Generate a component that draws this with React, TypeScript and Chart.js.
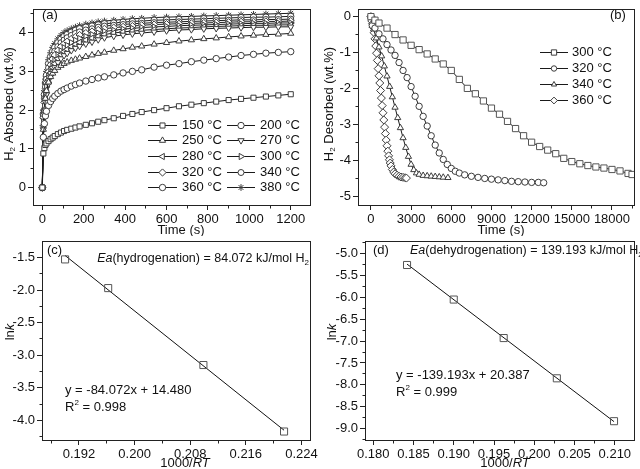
import React, { useEffect, useRef } from 'react';
import { Chart, registerables } from 'chart.js';
Chart.register(...registerables);

const FONT = "'Liberation Sans', Arial, Helvetica, sans-serif";

// ---------- Panel (a): H2 absorbed vs time ----------
const absTime = [0, 5, 10, 15, 20, 30, 40, 50, 60, 75, 90, 105, 120, 140, 160, 180, 210, 240, 270, 300, 345, 390, 435, 480, 540, 600, 660, 720, 780, 840, 900, 960, 1020, 1080, 1140, 1200];
const abs150 = [0, 0.88, 1.02, 1.1, 1.14, 1.2, 1.25, 1.29, 1.33, 1.38, 1.42, 1.46, 1.49, 1.52, 1.55, 1.58, 1.62, 1.66, 1.7, 1.74, 1.79, 1.85, 1.9, 1.95, 2.0, 2.05, 2.1, 2.14, 2.18, 2.22, 2.26, 2.29, 2.32, 2.35, 2.38, 2.41];
const abs200 = [0, 1.3, 1.65, 1.85, 1.97, 2.12, 2.22, 2.3, 2.36, 2.43, 2.49, 2.53, 2.57, 2.62, 2.66, 2.7, 2.75, 2.79, 2.83, 2.86, 2.91, 2.96, 3.0, 3.04, 3.11, 3.16, 3.2, 3.25, 3.29, 3.33, 3.37, 3.41, 3.44, 3.47, 3.49, 3.51];
const abs250 = [0, 1.5, 2.0, 2.3, 2.5, 2.72, 2.86, 2.95, 3.02, 3.1, 3.15, 3.2, 3.24, 3.28, 3.31, 3.34, 3.38, 3.42, 3.46, 3.49, 3.54, 3.58, 3.62, 3.65, 3.7, 3.74, 3.78, 3.81, 3.84, 3.86, 3.89, 3.91, 3.93, 3.95, 3.96, 3.98];
const abs270 = [0, 1.5, 1.9, 2.2, 2.4, 2.68, 2.86, 3.0, 3.1, 3.23, 3.33, 3.41, 3.47, 3.54, 3.6, 3.65, 3.71, 3.76, 3.82, 3.87, 3.91, 3.94, 3.97, 3.99, 4.02, 4.05, 4.07, 4.08, 4.1, 4.11, 4.12, 4.13, 4.14, 4.14, 4.15, 4.15];
const abs280 = [0, 1.6, 2.0, 2.3, 2.5, 2.78, 2.96, 3.1, 3.2, 3.33, 3.43, 3.51, 3.57, 3.64, 3.7, 3.75, 3.81, 3.86, 3.91, 3.95, 3.99, 4.02, 4.04, 4.06, 4.08, 4.1, 4.12, 4.13, 4.15, 4.16, 4.17, 4.18, 4.19, 4.19, 4.2, 4.2];
const abs300 = [0, 1.7, 2.1, 2.4, 2.6, 2.88, 3.06, 3.2, 3.3, 3.43, 3.53, 3.61, 3.67, 3.74, 3.8, 3.85, 3.9, 3.95, 3.99, 4.03, 4.06, 4.09, 4.11, 4.13, 4.15, 4.16, 4.18, 4.19, 4.2, 4.21, 4.22, 4.23, 4.24, 4.24, 4.25, 4.25];
const abs320 = [0, 1.8, 2.2, 2.5, 2.7, 2.99, 3.17, 3.32, 3.42, 3.54, 3.64, 3.71, 3.77, 3.84, 3.89, 3.94, 3.99, 4.03, 4.07, 4.1, 4.13, 4.15, 4.17, 4.19, 4.21, 4.22, 4.23, 4.24, 4.25, 4.26, 4.27, 4.28, 4.28, 4.29, 4.29, 4.3];
const abs340 = [0, 1.85, 2.3, 2.6, 2.8, 3.09, 3.28, 3.42, 3.52, 3.64, 3.74, 3.81, 3.87, 3.93, 3.98, 4.02, 4.07, 4.1, 4.14, 4.17, 4.19, 4.21, 4.23, 4.24, 4.26, 4.27, 4.28, 4.29, 4.3, 4.31, 4.32, 4.33, 4.33, 4.34, 4.34, 4.35];
const abs360 = [0, 1.9, 2.4, 2.7, 2.9, 3.2, 3.38, 3.52, 3.62, 3.74, 3.83, 3.9, 3.95, 4.01, 4.06, 4.1, 4.14, 4.17, 4.2, 4.23, 4.25, 4.27, 4.29, 4.3, 4.32, 4.33, 4.34, 4.35, 4.36, 4.37, 4.38, 4.39, 4.4, 4.4, 4.41, 4.42];
const abs380 = [0, 2.0, 2.5, 2.8, 3.0, 3.3, 3.48, 3.62, 3.72, 3.84, 3.93, 4.0, 4.05, 4.1, 4.14, 4.18, 4.22, 4.25, 4.28, 4.3, 4.32, 4.34, 4.36, 4.37, 4.39, 4.4, 4.41, 4.42, 4.43, 4.44, 4.45, 4.46, 4.47, 4.48, 4.49, 4.5];
const absSeries = [abs150, abs200, abs250, abs270, abs280, abs300, abs320, abs340, abs360, abs380];
const absLabels = ['150 °C', '200 °C', '250 °C', '270 °C', '280 °C', '300 °C', '320 °C', '340 °C', '360 °C', '380 °C'];
const absXTicks = [0, 200, 400, 600, 800, 1000, 1200];
const absYTicks = [0, 1, 2, 3, 4];

// ---------- Panel (b): H2 desorbed vs time ----------
const des300Time = [0, 300, 600, 1200, 1800, 2400, 3000, 3600, 4200, 4800, 5400, 6000, 6600, 7200, 7800, 8400, 9000, 9600, 10200, 10800, 11400, 12000, 12600, 13200, 13800, 14400, 15000, 15600, 16200, 16800, 17400, 18000, 18600, 19200, 19500];
const des300 = [0, -0.1, -0.18, -0.32, -0.5, -0.65, -0.8, -0.92, -1.04, -1.18, -1.32, -1.5, -1.75, -2.0, -2.15, -2.35, -2.55, -2.72, -2.92, -3.12, -3.32, -3.5, -3.62, -3.72, -3.82, -3.95, -4.04, -4.1, -4.15, -4.19, -4.22, -4.26, -4.3, -4.37, -4.4];
const des320Time = [0, 100, 300, 600, 900, 1200, 1500, 1800, 2100, 2400, 2700, 3000, 3300, 3600, 3900, 4200, 4500, 4800, 5100, 5400, 5700, 6000, 6300, 6600, 7000, 7500, 8000, 8500, 9000, 9500, 10000, 10500, 11000, 11500, 12000, 12500, 12900];
const des320 = [0, -0.25, -0.32, -0.48, -0.62, -0.78, -0.93, -1.08, -1.28, -1.5, -1.7, -1.95, -2.22, -2.5, -2.78, -3.05, -3.32, -3.58, -3.8, -3.98, -4.12, -4.23, -4.31, -4.36, -4.41, -4.45, -4.48, -4.51, -4.53, -4.55, -4.57, -4.59, -4.6, -4.61, -4.62, -4.62, -4.63];
const des340Time = [0, 100, 200, 400, 600, 800, 1000, 1200, 1400, 1600, 1800, 2000, 2200, 2400, 2600, 2800, 3000, 3200, 3400, 3600, 3900, 4200, 4500, 4800, 5100, 5400, 5750];
const des340 = [0, -0.25, -0.35, -0.6, -0.85, -1.1, -1.38, -1.66, -1.95, -2.24, -2.53, -2.82, -3.1, -3.38, -3.65, -3.9, -4.12, -4.27, -4.36, -4.4, -4.43, -4.44, -4.45, -4.46, -4.47, -4.48, -4.49];
const des360Time = [0, 60, 120, 180, 240, 300, 360, 420, 480, 540, 600, 660, 720, 780, 840, 900, 960, 1020, 1080, 1140, 1200, 1260, 1320, 1380, 1440, 1500, 1600, 1700, 1800, 1950, 2100, 2250, 2400, 2550, 2650];
const des360 = [0, -0.12, -0.2, -0.3, -0.45, -0.62, -0.82, -1.02, -1.22, -1.45, -1.65, -1.85, -2.06, -2.27, -2.48, -2.68, -2.88, -3.08, -3.26, -3.44, -3.6, -3.75, -3.88, -3.99, -4.08, -4.16, -4.26, -4.33, -4.38, -4.42, -4.45, -4.47, -4.48, -4.49, -4.5];
const desLabels = ['300 °C', '320 °C', '340 °C', '360 °C'];
const desXTicks = [0, 3000, 6000, 9000, 12000, 15000, 18000];
const desYTicks = [0, -1, -2, -3, -4, -5];

// ---------- Panel (c): hydrogenation Arrhenius ----------
const hydX = [0.19, 0.1962, 0.2099, 0.2215];
const hydLnk = [-1.53, -1.97, -3.15, -4.17];
const hydFitX = [0.19, 0.2215];
const hydFitY = [-1.47, -4.15];
const hydXTicks = [0.192, 0.2, 0.208, 0.216, 0.224];
const hydYTicks = [-1.5, -2.0, -2.5, -3.0, -3.5, -4.0];

// ---------- Panel (d): dehydrogenation Arrhenius ----------
const dehX = [0.1842, 0.19, 0.1962, 0.2028, 0.2099];
const dehLnk = [-5.26, -6.05, -6.93, -7.85, -8.83];
const dehFitX = [0.1842, 0.2099];
const dehFitY = [-5.24, -8.84];
const dehXTicks = [0.18, 0.185, 0.19, 0.195, 0.2, 0.205, 0.21];
const dehYTicks = [-5.0, -5.5, -6.0, -6.5, -7.0, -7.5, -8.0, -8.5, -9.0];

// ---------- drawing helpers ----------
const INK = '#111';
const MARK = '#3c3c3c';
const TICK_SIZE = 13;
const TEXT_SIZE = 13;

function drawRich(ctx: any, segs: any[], x: number, y: number, size: number, align: string, rot: number) {
  ctx.save();
  ctx.translate(x, y);
  if (rot) ctx.rotate(rot);
  const fontFor = (s: any) => `${s.it ? 'italic ' : ''}${s.sub || s.sup ? Math.round(size * 0.62) : size}px ${FONT}`;
  let total = 0;
  const widths = segs.map((s) => {
    ctx.font = fontFor(s);
    const w = ctx.measureText(s.t).width;
    total += w;
    return w;
  });
  let cx = align === 'center' ? -total / 2 : align === 'right' ? -total : 0;
  ctx.textBaseline = 'middle';
  ctx.textAlign = 'left';
  ctx.fillStyle = INK;
  segs.forEach((s, i) => {
    ctx.font = fontFor(s);
    const dy = s.sub ? size * 0.32 : s.sup ? -size * 0.36 : 0;
    ctx.fillText(s.t, cx, dy);
    cx += widths[i];
  });
  ctx.restore();
}

function drawMarker(ctx: any, style: string, x: number, y: number, r: number, rotDeg: number) {
  const rad = ((rotDeg || 0) * Math.PI) / 180;
  ctx.beginPath();
  if (style === 'circle') {
    ctx.arc(x, y, r, 0, Math.PI * 2);
  } else if (style === 'rect') {
    const s = r * Math.SQRT1_2;
    ctx.rect(x - s, y - s, 2 * s, 2 * s);
  } else if (style === 'rectRot') {
    ctx.moveTo(x, y - r);
    ctx.lineTo(x + r, y);
    ctx.lineTo(x, y + r);
    ctx.lineTo(x - r, y);
    ctx.closePath();
  } else if (style === 'triangle') {
    for (let k = 0; k < 3; k++) {
      const a = rad + (k * 2 * Math.PI) / 3;
      const px = x + Math.sin(a) * r;
      const py = y - Math.cos(a) * r;
      if (k === 0) ctx.moveTo(px, py);
      else ctx.lineTo(px, py);
    }
    ctx.closePath();
  } else if (style === 'star') {
    for (let k = 0; k < 4; k++) {
      const a = (k * Math.PI) / 4;
      ctx.moveTo(x - Math.sin(a) * r, y + Math.cos(a) * r);
      ctx.lineTo(x + Math.sin(a) * r, y - Math.cos(a) * r);
    }
    ctx.stroke();
    return;
  }
  ctx.fill();
  ctx.stroke();
}

const al = (p: number) => Math.round(p - 0.5) + 0.5;

function makeDecor(cfg: any) {
  return {
    id: 'decor',
    afterDraw(chart: any) {
      const { ctx, chartArea: ca, scales } = chart;
      ctx.save();
      ctx.strokeStyle = '#222';
      ctx.lineWidth = 1;
      const L = al(ca.left), T = al(ca.top), R = al(ca.right), B = al(ca.bottom);
      ctx.strokeRect(L, T, R - L, B - T);
      // minor ticks
      const xs = scales.x, ys = scales.y;
      ctx.beginPath();
      for (let k = Math.ceil(xs.min / cfg.minorX - 1e-9); k <= Math.floor(xs.max / cfg.minorX + 1e-9); k++) {
        const px = al(xs.getPixelForValue(k * cfg.minorX));
        ctx.moveTo(px, B);
        ctx.lineTo(px, B + 3);
      }
      for (let k = Math.ceil(ys.min / cfg.minorY - 1e-9); k <= Math.floor(ys.max / cfg.minorY + 1e-9); k++) {
        const py = al(ys.getPixelForValue(k * cfg.minorY));
        ctx.moveTo(L - 3, py);
        ctx.lineTo(L, py);
      }
      ctx.stroke();
      // legend
      (cfg.legend || []).forEach((e: any) => {
        ctx.strokeStyle = '#1a1a1a';
        ctx.lineWidth = 1;
        ctx.beginPath();
        ctx.moveTo(e.x1, e.y + 0.5);
        ctx.lineTo(e.x2, e.y + 0.5);
        ctx.stroke();
        ctx.fillStyle = '#fff';
        ctx.strokeStyle = MARK;
        drawMarker(ctx, e.style, (e.x1 + e.x2) / 2, e.y + 0.5, e.r, e.rot);
        drawRich(ctx, [{ t: e.label }], e.tx, e.y, TEXT_SIZE, 'left', 0);
      });
      // texts
      (cfg.texts || []).forEach((t: any) => drawRich(ctx, t.segs, t.x, t.y, t.size || 12.5, t.align || 'left', t.rot || 0));
      ctx.restore();
    },
  };
}

function axis(min: number, max: number, tickVals: number[], fmt: (v: number) => string, size: number, isX: boolean) {
  return {
    type: 'linear',
    min,
    max,
    afterBuildTicks: (s: any) => {
      s.ticks = tickVals.map((v) => ({ value: v }));
    },
    afterFit: (s: any) => {
      if (isX) s.height = size;
      else s.width = size;
    },
    grid: { display: true, drawOnChartArea: false, drawTicks: true, tickLength: 5, color: '#222', lineWidth: 1 },
    border: { display: false },
    ticks: { callback: (v: any) => fmt(Number(v)), font: { family: FONT, size: TICK_SIZE }, color: INK, padding: 2, autoSkip: false, maxRotation: 0 },
    title: { display: false },
  };
}

const baseOptions = (pad: any, scales: any) => ({
  animation: false,
  responsive: false,
  events: [],
  layout: { padding: pad },
  plugins: { legend: { display: false }, tooltip: { enabled: false } },
  scales,
});

const pts = (xs: number[], ys: number[]) => xs.map((x, i) => ({ x, y: ys[i] }));

// ---------- chart configs ----------
const absStyle = ['rect', 'circle', 'triangle', 'triangle', 'triangle', 'triangle', 'rectRot', 'circle', 'circle', 'star'];
const absRot = [0, 0, 0, 180, 270, 90, 0, 0, 0, 0];
const absRad = [3.6, 3.2, 3.6, 3.6, 3.6, 3.6, 3.6, 3.0, 3.2, 3.4];

function configA() {
  const datasets = absSeries.map((ys, i) => ({
    data: pts(absTime, ys),
    borderColor: '#1a1a1a',
    borderWidth: 1,
    tension: 0,
    pointStyle: absStyle[i],
    pointRotation: absRot[i],
    pointRadius: absRad[i],
    pointBackgroundColor: '#fff',
    pointBorderColor: MARK,
    pointBorderWidth: 1,
  }));
  const rows = [125, 140, 156, 172, 187];
  const legend = absLabels.map((lab, i) => {
    const col = i % 2;
    const row = Math.floor(i / 2);
    return {
      label: lab,
      style: absStyle[i],
      rot: absRot[i],
      r: absRad[i],
      x1: col ? 227 : 148,
      x2: col ? 255 : 177,
      tx: col ? 260 : 182,
      y: rows[row],
    };
  });
  const texts = [
    { segs: [{ t: '(a)' }], x: 42, y: 15, size: 13 },
    { segs: [{ t: 'H' }, { t: '2', sub: true }, { t: ' Absorbed (wt.%)' }], x: 9, y: 104, align: 'center', rot: -Math.PI / 2, size: 13 },
    { segs: [{ t: 'Time (s)' }], x: 181, y: 230, align: 'center', size: 13 },
  ];
  return {
    type: 'line',
    data: { datasets },
    options: baseOptions({ top: 3, right: 10, left: 0, bottom: 0 }, {
      x: axis(-45, 1293, absXTicks, (v) => String(v), 31, true),
      y: axis(-0.45, 4.59, absYTicks, (v) => String(v), 33, false),
    }),
    plugins: [makeDecor({ minorX: 100, minorY: 0.5, legend, texts })],
  };
}

const desStyle = ['rect', 'circle', 'triangle', 'rectRot'];
const desRad = [4.4, 3.2, 3.6, 4];

function configB() {
  const series = [pts(des300Time, des300), pts(des320Time, des320), pts(des340Time, des340), pts(des360Time, des360)];
  const datasets = series.map((d, i) => ({
    data: d,
    borderColor: '#1a1a1a',
    borderWidth: 1,
    tension: 0,
    pointStyle: desStyle[i],
    pointRadius: desRad[i],
    pointBackgroundColor: '#fff',
    pointBorderColor: i === 0 ? '#555' : MARK,
    pointBorderWidth: 1,
  }));
  const rows = [52, 68, 84, 100];
  const legend = desLabels.map((lab, i) => ({ label: lab, style: desStyle[i], rot: 0, r: desRad[i] * 0.85, x1: 220, x2: 248, tx: 252, y: rows[i] }));
  const texts = [
    { segs: [{ t: '(b)' }], x: 290, y: 15, size: 13 },
    { segs: [{ t: 'H' }, { t: '2', sub: true }, { t: ' Desorbed (wt.%)' }], x: 9, y: 104, align: 'center', rot: -Math.PI / 2, size: 13 },
    { segs: [{ t: 'Time (s)' }], x: 181, y: 230, align: 'center', size: 13 },
  ];
  return {
    type: 'line',
    data: { datasets },
    options: baseOptions({ top: 3, right: 4, left: 0, bottom: 0 }, {
      x: axis(-966, 19690, desXTicks, (v) => String(v), 31, true),
      y: axis(-5.25, 0.19, desYTicks, (v) => String(v), 38, false),
    }),
    plugins: [makeDecor({ minorX: 1500, minorY: 0.5, legend, texts })],
  };
}

function arrheniusConfig(px: number[], py: number[], fx: number[], fy: number[], opts: any) {
  return {
    type: 'line',
    data: {
      datasets: [
        {
          data: pts(px, py),
          showLine: false,
          pointStyle: 'rect',
          pointRadius: 5,
          pointBackgroundColor: 'rgba(255,255,255,0)',
          pointBorderColor: '#555',
          pointBorderWidth: 1,
        },
        {
          data: pts(fx, fy),
          borderColor: '#111',
          borderWidth: 1,
          pointRadius: 0,
          tension: 0,
        },
      ],
    },
    options: baseOptions(opts.pad, opts.scales),
    plugins: [makeDecor(opts.decor)],
  };
}

function configC() {
  const texts = [
    { segs: [{ t: '(c)' }], x: 47, y: 18, size: 13 },
    { segs: [{ t: 'E', it: true }, { t: 'a', it: true }, { t: '(hydrogenation) = 84.072 kJ/mol H' }, { t: '2', sub: true }], x: 309, y: 27, align: 'right' },
    { segs: [{ t: 'y = -84.072x + 14.480' }], x: 65, y: 158, size: 13 },
    { segs: [{ t: 'R' }, { t: '2', sup: true }, { t: ' = 0.998' }], x: 65, y: 175, size: 13 },
    { segs: [{ t: 'ln' }, { t: 'k', it: true }], x: 10, y: 100, align: 'center', rot: -Math.PI / 2, size: 13 },
    { segs: [{ t: '1000/' }, { t: 'RT', it: true }], x: 185, y: 231, align: 'center', size: 13 },
  ];
  return arrheniusConfig(hydX, hydLnk, hydFitX, hydFitY, {
    pad: { top: 6, right: 9, left: 0, bottom: 0 },
    scales: {
      x: axis(0.18668, 0.22534, hydXTicks, (v) => v.toFixed(3), 29, true),
      y: axis(-4.3, -1.26, hydYTicks, (v) => v.toFixed(1), 42, false),
    },
    decor: { minorX: 0.004, minorY: 0.25, texts },
  });
}

function configD() {
  const texts = [
    { segs: [{ t: '(d)' }], x: 53, y: 18, size: 13 },
    { segs: [{ t: 'E', it: true }, { t: 'a', it: true }, { t: '(dehydrogenation) = 139.193 kJ/mol H' }, { t: '2', sub: true }], x: 90, y: 19, align: 'left' },
    { segs: [{ t: 'y = -139.193x + 20.387' }], x: 76, y: 143, size: 13 },
    { segs: [{ t: 'R' }, { t: '2', sup: true }, { t: ' = 0.999' }], x: 76, y: 160, size: 13 },
    { segs: [{ t: 'ln' }, { t: 'k', it: true }], x: 12, y: 100, align: 'center', rot: -Math.PI / 2, size: 13 },
    { segs: [{ t: '1000/' }, { t: 'RT', it: true }], x: 185, y: 231, align: 'center', size: 13 },
  ];
  return arrheniusConfig(dehX, dehLnk, dehFitX, dehFitY, {
    pad: { top: 6, right: 4, left: 0, bottom: 0 },
    scales: {
      x: axis(0.17898, 0.21238, dehXTicks, (v) => v.toFixed(3), 29, true),
      y: axis(-9.26, -4.73, dehYTicks, (v) => v.toFixed(1), 45, false),
    },
    decor: { minorX: 0.0025, minorY: 0.25, texts },
  });
}

function Panel({ left, top, width, height, make }: any) {
  const ref = useRef<HTMLCanvasElement>(null);
  useEffect(() => {
    const chart = new Chart(ref.current as any, make() as any);
    return () => chart.destroy();
  }, []);
  return (
    <div style={{ position: 'absolute', left, top, width, height }}>
      <canvas ref={ref} width={width} height={height} style={{ width, height, display: 'block' }} />
    </div>
  );
}

export default function App() {
  return (
    <div style={{ position: 'fixed', left: 0, top: 0, width: 640, height: 469, background: '#fff', overflow: 'hidden' }}>
      <Panel left={0} top={0} width={320} height={236} make={configA} />
      <Panel left={320} top={0} width={320} height={236} make={configB} />
      <Panel left={0} top={232} width={320} height={237} make={configC} />
      <Panel left={320} top={232} width={320} height={237} make={configD} />
    </div>
  );
}
